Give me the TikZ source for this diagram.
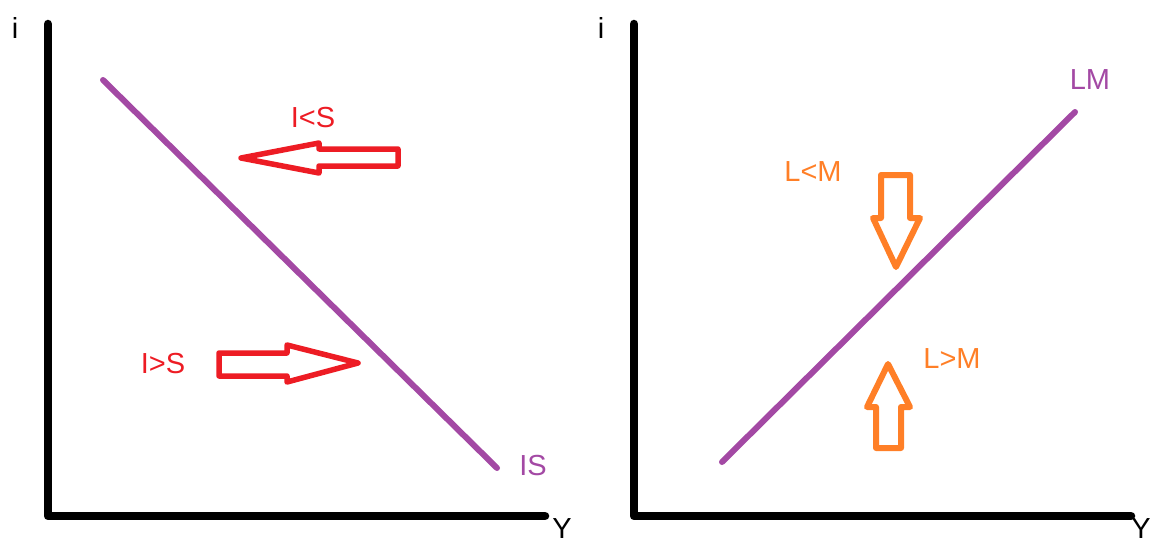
\documentclass[tikz,border=0pt]{standalone}
\usepackage{fontspec}
\setmainfont{Liberation Sans}
\definecolor{pred}{HTML}{ED1C24}
\definecolor{porange}{HTML}{FF7F27}
\definecolor{ppurple}{HTML}{A349A4}
\begin{document}
\begin{tikzpicture}[x=1pt,y=-1pt,
  axis/.style={line width=8.5pt,line cap=round,line join=round},
  curve/.style={ppurple,line width=6pt,line cap=round},
  redarrow/.style={pred,line width=5.5pt,line join=round,fill=white},
  orangearrow/.style={porange,line width=6pt,line join=round,fill=white},
  lbl/.style={font=\fontsize{29}{30}\selectfont,inner sep=0pt}]
\useasboundingbox (0,0) rectangle (1155,543);
% left axes
\coordinate (o1) at (48,516);
\coordinate (t1) at (48,24);
\coordinate (e1) at (545,516);
\draw[axis] (t1) -- (o1) -- (e1);
\node[lbl] (i1) at (15,28) {i};
\node[lbl,anchor=south] (y1) at (562,539) {Y};
% right axes
\coordinate (o2) at (634,516);
\coordinate (t2) at (634,24);
\coordinate (e2) at (1131,516);
\draw[axis] (t2) -- (o2) -- (e2);
\node[lbl] (i2) at (601,28) {i};
\node[lbl,anchor=south east] (y2) at (1151,539) {Y};
% IS curve
\coordinate (is1) at (103,80);
\coordinate (is2) at (497,468);
\draw[curve] (is1) -- (is2);
\node[lbl,text=ppurple] (islbl) at (533,466) {IS};
% LM curve
\coordinate (lm1) at (722,462);
\coordinate (lm2) at (1075,112);
\draw[curve] (lm1) -- (lm2);
\node[lbl,text=ppurple] (lmlbl) at (1090,80) {LM};
% I<S arrow (left)
\draw[redarrow] (241,158) -- (319,143) -- (319,149) -- (398,149) -- (398,166) -- (319,166) -- (319,173) -- cycle;
\node[lbl,text=pred] (ilts) at (313,118) {I<S};
% I>S arrow (right)
\draw[redarrow] (358,363) -- (287,345) -- (287,353) -- (219,353) -- (219,376) -- (287,376) -- (287,382) -- cycle;
\node[lbl,text=pred] (igts) at (163,364) {I>S};
% L<M arrow (down)
\draw[orangearrow] (896,267) -- (873,218) -- (881,218) -- (881,175) -- (910,175) -- (910,218) -- (920,218) -- cycle;
\node[lbl,text=porange] (ltm) at (813,172) {L<M};
% L>M arrow (up)
\draw[orangearrow] (888,364) -- (867,407) -- (876,407) -- (876,448) -- (901,448) -- (901,407) -- (910,407) -- cycle;
\node[lbl,text=porange] (lgm) at (952,359) {L>M};
\end{tikzpicture}
\end{document}
